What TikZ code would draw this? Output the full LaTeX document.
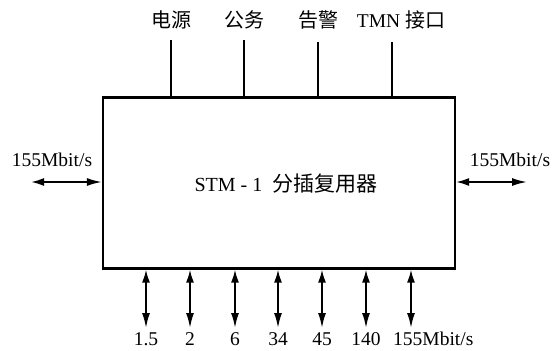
\documentclass[tikz,border=0pt]{standalone}
\usepackage{fontspec}
\setmainfont{Liberation Serif}
\newfontfamily\cjk{Noto Sans CJK SC}
\usetikzlibrary{arrows.meta}
\begin{document}
\begin{tikzpicture}[x=1pt,y=-1pt,
  lbl/.style={font=\fontsize{19.5}{19.5}\selectfont, inner sep=0pt},
  cl/.style={font=\cjk\fontsize{20}{20}\selectfont, inner sep=0pt},
  dbl/.style={line width=1.8pt, {Latex[length=13pt,width=8pt]}-{Latex[length=15pt,width=8pt]}},
  feed/.style={line width=1.4pt}]
\useasboundingbox (0,0) rectangle (555,351);
\node[draw, line width=2.2pt, minimum width=352pt, minimum height=171pt, inner sep=0pt] (box) at (279,183) {};
\node[inner sep=0pt] (title) at (286,184) {\fontsize{20}{20}\selectfont STM - 1\ \ {\cjk\fontsize{21}{21}\selectfont 分插复用器}};
% top labels
\node[cl] (t1) at (171,20) {电源};
\node[cl] (t2) at (244,20) {公务};
\node[cl] (t3) at (318,20) {告警};
\node[inner sep=0pt] (t4) at (401,20) {\fontsize{19.5}{19.5}\selectfont TMN {\cjk\fontsize{20}{20}\selectfont 接口}};
\coordinate (c1) at (171,40);
\coordinate (c2) at (244,40);
\coordinate (c3) at (318,42);
\coordinate (c4) at (392,42);
\draw[feed] (c1) -- (c1 |- box.north);
\draw[feed] (c2) -- (c2 |- box.north);
\draw[feed] (c3) -- (c3 |- box.north);
\draw[feed] (c4) -- (c4 |- box.north);
% side arrows
\coordinate (le) at (31,182);
\coordinate (re) at (527,182);
\draw[dbl] (le) -- (le -| box.west);
\draw[dbl] (box.east |- re) -- (re);
\node[lbl] (ll) at (52,160) {155Mbit/s};
\node[lbl] (rl) at (510,160) {155Mbit/s};
% bottom arrows
\foreach \x/\n/\t in {146/b1/1.5, 190/b2/2, 235/b3/6, 278/b4/34, 322/b5/45, 366/b6/140} {
  \coordinate (\n) at (\x,328);
  \draw[dbl] (\n |- box.south) -- (\n);
  \node[lbl, anchor=base] at (\x,345) {\t};
}
\coordinate (b7) at (411,328);
\draw[dbl] (b7 |- box.south) -- (b7);
\node[lbl, anchor=base west] (l7) at (393,345) {155Mbit/s};
\end{tikzpicture}
\end{document}
